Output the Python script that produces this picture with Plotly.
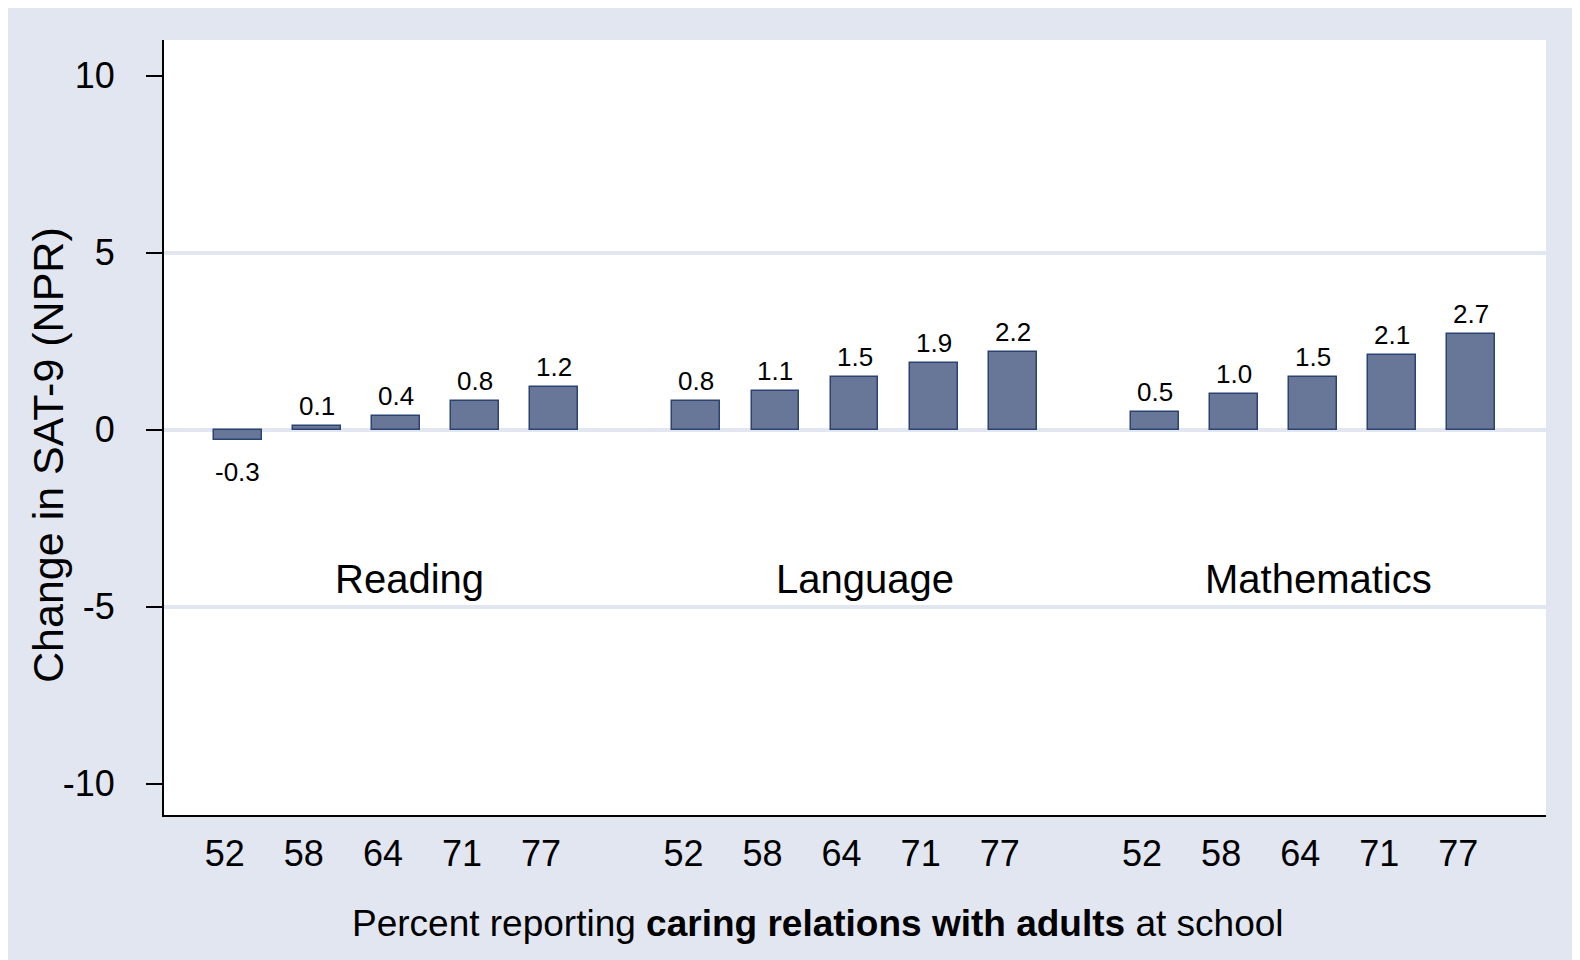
import plotly.graph_objects as go

groups = ["Reading", "Language", "Mathematics"]
tick_labels = ["52", "58", "64", "71", "77"]
reading = [-0.3, 0.1, 0.4, 0.8, 1.2]
language = [0.8, 1.1, 1.5, 1.9, 2.2]
mathematics = [0.5, 1.0, 1.5, 2.1, 2.7]
series = [reading, language, mathematics]

GROUP_STRIDE = 5.8
FONT = "Liberation Sans, Arial, Helvetica, sans-serif"
BG = "#E1E6F0"

xs, ys, labels = [], [], []
for g, vals in enumerate(series):
    for i, v in enumerate(vals):
        xs.append(g * GROUP_STRIDE + i)
        ys.append(v)
        labels.append(tick_labels[i])

fig = go.Figure()
fig.add_trace(go.Bar(
    x=xs, y=ys, width=0.605,
    marker=dict(color="#687797", line=dict(color="#2A4373", width=1.5)),
    showlegend=False, hoverinfo="skip",
))
# invisible trace for grid overlay axis
fig.add_trace(go.Scatter(x=[xs[0]], y=[0], yaxis="y2", mode="markers",
                         marker=dict(opacity=0), showlegend=False, hoverinfo="skip"))

annotations = []
for x, v in zip(xs, ys):
    annotations.append(dict(
        x=x, y=v, xref="x", yref="y", text=f"{v:.1f}", showarrow=False,
        yanchor="bottom" if v >= 0 else "top",
        yshift=3 if v >= 0 else -15,
        font=dict(family=FONT, size=26, color="black"),
    ))
group_label_x = [2.17, 2.13, 2.07]
for g, name in enumerate(groups):
    annotations.append(dict(
        x=g * GROUP_STRIDE + group_label_x[g], y=-4.21, xref="x", yref="y", text=name,
        showarrow=False, xanchor="center", yanchor="middle",
        font=dict(family=FONT, size=40, color="black"),
    ))
annotations.append(dict(
    x=-0.0836, y=0.4652, xref="paper", yref="paper",
    text="Change in SAT-9 (NPR)", textangle=-90, showarrow=False,
    xanchor="center", yanchor="middle",
    font=dict(family=FONT, size=43, color="black"),
))
annotations.append(dict(
    x=0.4735, y=-0.1405, xref="paper", yref="paper",
    text="Percent reporting <b>caring relations with adults</b> at school",
    showarrow=False, xanchor="center", yanchor="middle",
    font=dict(family=FONT, size=37, color="black"),
))

yrange = [-10.88, 11.01]
fig.update_layout(
    width=1580, height=960,
    margin=dict(l=156, r=42, t=32, b=153, pad=0),
    paper_bgcolor=BG, plot_bgcolor="white",
    font=dict(family=FONT, color="black"),
    bargap=0,
    xaxis=dict(
        range=[-0.933, 16.544], tickmode="array", tickvals=xs, ticktext=labels,
        ticks="", showgrid=False, zeroline=False,
        showline=True, linecolor="black", linewidth=2,
        tickfont=dict(family=FONT, size=36, color="black"),
        ticklabelshift=-13, ticklabelstandoff=6,
    ),
    yaxis=dict(
        range=yrange, tickmode="array", tickvals=[-10, -5, 0, 5, 10],
        ticktext=["-10", "-5", "0", "5", "10"],
        ticks="outside", ticklen=16, tickwidth=2, tickcolor="black",
        showgrid=False, zeroline=False,
        showline=True, linecolor="black", linewidth=2,
        tickfont=dict(family=FONT, size=36, color="black"),
        ticklabelstandoff=24,
    ),
    yaxis2=dict(
        range=yrange, overlaying="y", side="left", tickmode="array",
        tickvals=[-5, 0, 5], showticklabels=False, ticks="",
        showgrid=True, gridcolor=BG, gridwidth=3.5, zeroline=False, showline=False,
    ),
    annotations=annotations,
)

fig.write_html("out.html")
